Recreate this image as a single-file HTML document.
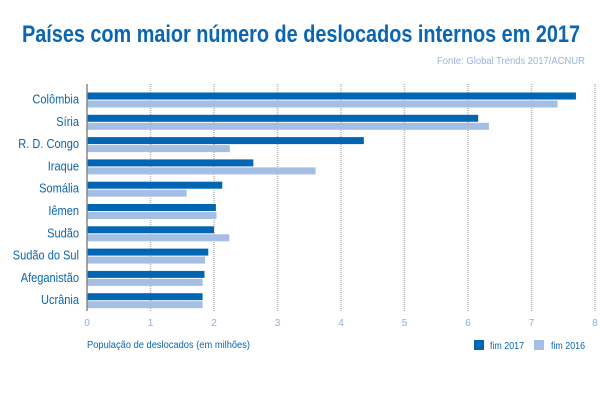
<!DOCTYPE html>
<html><head><meta charset="utf-8"><style>
body{margin:0;background:#fff;}
svg text{font-family:"Liberation Sans",sans-serif;}
</style></head><body>
<svg width="600" height="400" id="c">
<text x="22" y="42" font-size="24" font-weight="bold" fill="#0a66b0" textLength="558" lengthAdjust="spacingAndGlyphs">Países com maior número de deslocados internos em 2017</text>
<text x="585" y="64" font-size="10" fill="#9ab4d8" text-anchor="end" textLength="148" lengthAdjust="spacingAndGlyphs">Fonte: Global Trends 2017/ACNUR</text>
<g id="grid"></g><g id="bars"></g><g id="labels"></g>
<line x1="87" y1="84" x2="87" y2="311" stroke="#888" stroke-width="1.5"/>
<text x="87" y="348" font-size="10" fill="#0a66b0" textLength="163" lengthAdjust="spacingAndGlyphs">População de deslocados (em milhões)</text>
<rect x="474" y="340" width="10" height="10" fill="#0066b3"/>
<text x="490" y="349" font-size="10" fill="#0a66b0" textLength="34" lengthAdjust="spacingAndGlyphs">fim 2017</text>
<rect x="534" y="340" width="10" height="10" fill="#a5bee3"/>
<text x="551" y="349" font-size="10" fill="#0a66b0" textLength="34" lengthAdjust="spacingAndGlyphs">fim 2016</text>
</svg>
<script>
const categories=["Colômbia","Síria","R. D. Congo","Iraque","Somália","Iêmen","Sudão","Sudão do Sul","Afeganistão","Ucrânia"];
const values2017=[7.7,6.16,4.36,2.62,2.13,2.03,2.0,1.91,1.85,1.82];
const values2016=[7.41,6.33,2.25,3.6,1.57,2.04,2.24,1.86,1.82,1.82];
const ticks=[0,1,2,3,4,5,6,7,8];
const NS="http://www.w3.org/2000/svg";
const x=v=>87+v*63.5;
const y=i=>92.5+i*22.3;
function mk(tag,attrs,parent){const e=document.createElementNS(NS,tag);for(const k in attrs)e.setAttribute(k,attrs[k]);document.getElementById(parent).appendChild(e);return e;}
ticks.forEach(t=>{
 if(t>0){const l=mk('line',{x1:x(t),x2:x(t),y1:84,y2:311,stroke:'#b5b5b5','stroke-width':1.5,'stroke-dasharray':'1 1'},'grid');
 
 }
 const tx=mk('text',{x:x(t),y:326,'font-size':10,fill:'#8fb0dc','text-anchor':'middle'},'grid');tx.textContent=t;
 
 
});
categories.forEach((c,i)=>{
 const a=mk('rect',{x:87,y:y(i),width:x(values2017[i])-87,height:7,fill:'#0066b3'},'bars');
 
 
 const b=mk('rect',{x:87,y:y(i)+8,width:x(values2016[i])-87,height:7,fill:'#a5bee3'},'bars');
 
 
 const t=mk('text',{x:0,y:y(i)+11,'font-size':13,fill:'#0a66b0','text-anchor':'end',transform:'translate(79,0) scale(0.85,1)'},'labels');t.textContent=c;
 
 
});
</script>
</body></html>
